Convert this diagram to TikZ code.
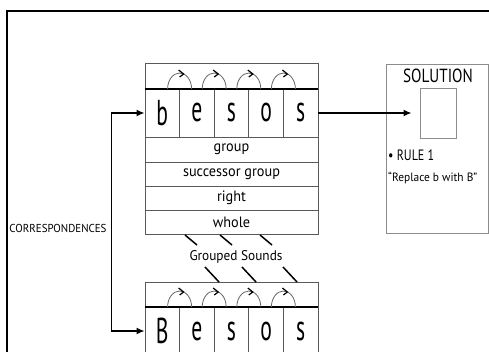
\documentclass[tikz,border=0pt]{standalone}
\usepackage{fontspec}
\setmainfont{PT Sans}[FakeStretch=0.95]
\newfontfamily\narrowfont{PT Sans}[FakeStretch=0.8]
\newfontfamily\letterfont{PT Sans}[FakeStretch=0.6]
\usetikzlibrary{arrows.meta}
\tikzset{
  cell/.style={draw=black!65, line width=0.8pt, minimum width=34.6pt, minimum height=48pt,
    inner sep=0pt, font=\letterfont\fontsize{36}{36}\selectfont},
  rowbox/.style={draw=black!65, line width=0.8pt, minimum width=173pt, minimum height=24pt,
    inner sep=0pt, font=\fontsize{15}{15}\selectfont},
  link/.style={line width=1.6pt, -{Latex[length=8pt,width=7pt]}},
  slash/.style={line width=1.5pt},
  hop/.style={black!60, line width=0.8pt},
}

\begin{document}
\begin{tikzpicture}[x=1pt,y=-1pt]
      \useasboundingbox (0,0) rectangle (489,352);
      \def\bx{145}
      \def\cw{34.6}
      % Frame
      \draw[line width=2pt] (7,352) -- (7,11) -- (489,11);
      % Upper word
      \node[rowbox, minimum height=26pt] (utop) at (231.5,76) {};
      \foreach \l [count=\i] in {b,e,s,o,s}{
          \node[cell] (u\i) at ({\bx+\cw*(\i-0.5)},113) {\l};
        }
      \node[rowbox, minimum height=25pt] (ugroup) at (231.5,149.5) {group};
      \node[rowbox] (usucc) at (231.5,174) {successor group};
      \node[rowbox] (uright) at (231.5,198) {right};
      \node[rowbox] (uwhole) at (231.5,222) {whole};
      \draw[line width=2pt] (utop.south west) -- (utop.south east);
      % Lower word
      \node[rowbox, minimum height=25pt] (ltop) at (231.5,294.5) {};
      \foreach \l [count=\i] in {B,e,s,o,s}{
          \node[cell] (l\i) at ({\bx+\cw*(\i-0.5)},331) {\l};
        }
      \draw[line width=2pt] (ltop.south west) -- (ltop.south east);
      % Hops between letters
      \foreach \y in {89,307}{
          \foreach \k in {1,...,4}{
              \draw[hop] ({\bx+\cw*\k-12},\y) arc[start angle=180, end angle=0, x radius=12pt, y radius=16pt];
              \draw[line width=1.2pt] ({\bx+\cw*\k-1},{\y-19}) -- ({\bx+\cw*\k+4},{\y-15}) -- ({\bx+\cw*\k},{\y-12});
            }
        }
      % Grouped sounds
      \node[font=\fontsize{14}{14}\selectfont] (sounds) at (236,257) {Grouped Sounds};
      \foreach \x in {185,220,260}{
          \draw[slash] (\x,235) -- ({\x+12},245);
        }
      \foreach \x in {205,242,283}{
          \draw[slash] (\x,267) -- ({\x+14},282);
        }
      % Correspondences
      \draw[line width=1.6pt, {Latex[length=8pt,width=7pt]}-{Latex[length=8pt,width=7pt]}]
        (u1.west) -- ++(-33,0) |- (l1.west);
      \node[inner sep=1pt, font=\fontsize{11.5}{11.5}\selectfont] (corr) at (58,228) {CORRESPONDENCES};
      % Solution
      \node[draw=black!45, line width=0.8pt, minimum width=102pt, minimum height=169pt] (sol) at (437,148.5) {};
      \node[font=\narrowfont\fontsize{19}{19}\selectfont] (soltitle) at (438,76) {SOLUTION};
      \node[draw=black!45, line width=0.8pt, minimum width=36pt, minimum height=50pt] (slot) at (438,113) {};
      \node[anchor=west, inner sep=0pt, font=\narrowfont\fontsize{15}{15}\selectfont] (rule) at (388,155) {\textbullet\ RULE 1};
      \node[anchor=west, inner sep=0pt, font=\fontsize{12}{12}\selectfont] (quote) at (388,178) {``Replace b with B''};
      \draw[link, shorten >=8pt] (u5.east) -- (slot.west);
    \end{tikzpicture}
\end{document}
